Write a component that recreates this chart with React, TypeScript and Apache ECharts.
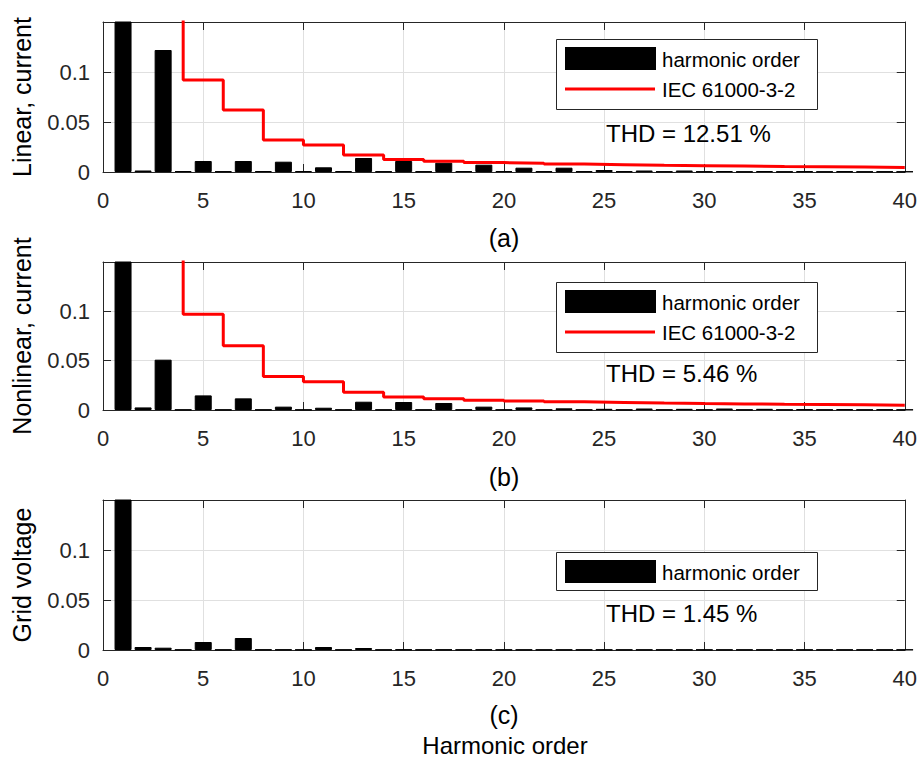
import React, { useEffect, useRef } from "react";
import * as echarts from "echarts";

// Harmonic orders 1..40
const harmonics = [
  1, 2, 3, 4, 5, 6, 7, 8, 9, 10, 11, 12, 13, 14, 15, 16, 17, 18, 19, 20,
  21, 22, 23, 24, 25, 26, 27, 28, 29, 30, 31, 32, 33, 34, 35, 36, 37, 38, 39, 40,
];

// (a) Linear current harmonic magnitudes (p.u. of fundamental)
const linearCurrent = [
  1, 0.0015, 0.122, 0.001, 0.011, 0.0007, 0.011, 0.001, 0.0103, 0.001,
  0.0047, 0.001, 0.014, 0.0007, 0.011, 0.0007, 0.0093, 0.001, 0.0073, 0.001,
  0.0043, 0.0008, 0.0043, 0.0008, 0.002, 0.0008, 0.0015, 0.0006, 0.0015, 0.0006,
  0.001, 0.0005, 0.001, 0.0005, 0.0008, 0.0005, 0.0008, 0.0005, 0.0006, 0.0005,
];

// (b) Nonlinear current harmonic magnitudes
const nonlinearCurrent = [
  1, 0.0026, 0.051, 0.0004, 0.0148, 0.0004, 0.0118, 0.0004, 0.0034, 0.0004,
  0.0023, 0.0004, 0.0084, 0.0004, 0.0081, 0.0004, 0.0071, 0.0004, 0.0034, 0.0004,
  0.0026, 0.0004, 0.0017, 0.0004, 0.0012, 0.0004, 0.0015, 0.0004, 0.0012, 0.0004,
  0.0015, 0.0004, 0.0012, 0.0004, 0.0008, 0.0004, 0.0008, 0.0004, 0.0006, 0.0004,
];

// (c) Grid voltage harmonic magnitudes
const gridVoltage = [
  1, 0.003, 0.0023, 0.0004, 0.008, 0.0004, 0.012, 0.0005, 0.0005, 0.0004,
  0.003, 0.0004, 0.002, 0.0004, 0.0006, 0.0004, 0.0005, 0.0004, 0.0005, 0.0004,
  0.0004, 0.0004, 0.0004, 0.0004, 0.0004, 0.0004, 0.0004, 0.0004, 0.0004, 0.0004,
  0.0004, 0.0004, 0.0004, 0.0004, 0.0004, 0.0004, 0.0004, 0.0004, 0.0004, 0.0004,
];

// IEC 61000-3-2 limit stairs (step starts)
const limitSteps = [2, 4, 6, 8, 10, 12, 14, 16, 18, 20, 22, 24, 26, 28, 30, 32, 34, 36, 38, 40];
const limitLinear = [
  0.186, 0.092, 0.062, 0.032, 0.027, 0.017, 0.0125, 0.0107, 0.0094, 0.0087,
  0.0079, 0.0073, 0.0067, 0.0063, 0.0059, 0.0055, 0.0052, 0.0049, 0.0046, 0.0046,
];
const limitNonlinear = [
  0.195, 0.097, 0.065, 0.034, 0.0287, 0.0179, 0.0132, 0.0115, 0.01, 0.0091,
  0.0083, 0.0077, 0.0071, 0.0066, 0.0062, 0.0058, 0.0055, 0.0052, 0.0049, 0.0049,
];

const xTicks = { min: 0, max: 40, interval: 5 };
const yTicks = { min: 0, max: 0.15, interval: 0.05 };

const yLabels = ["Linear, current", "Nonlinear, current", "Grid voltage"];
const panelTags = ["(a)", "(b)", "(c)"];
const thdTexts = ["THD = 12.51 %", "THD = 5.46 %", "THD = 1.45 %"];
const barName = "harmonic order";
const limitName = "IEC 61000-3-2";
const xLabel = "Harmonic order";

const FONT = "'Liberation Sans', Arial, Helvetica, sans-serif";
const AX = "#262626";
const GRIDC = "#e0e0e0";

const grids = [
  { left: 103, top: 22, width: 803, height: 150 },
  { left: 103, top: 262, width: 803, height: 148 },
  { left: 103, top: 500, width: 803, height: 150 },
];

function textEl(text: string, x: number, y: number, size: number, align = "left", rot = 0) {
  return {
    type: "text",
    x,
    y,
    rotation: rot,
    z: 100,
    style: {
      text,
      fontSize: size,
      fontFamily: FONT,
      fill: "#000",
      align,
      verticalAlign: "middle",
      textAlign: align,
      textVerticalAlign: "middle",
    },
  };
}

export default function App() {
  const ref = useRef<HTMLDivElement>(null);
  useEffect(() => {
    if (!ref.current) return;
    const chart = echarts.init(ref.current, undefined, { renderer: "svg" });

    const xAxis: any[] = [];
    const yAxis: any[] = [];
    const series: any[] = [];
    const panelData = [linearCurrent, nonlinearCurrent, gridVoltage];
    const limits = [limitLinear, limitNonlinear, null];

    grids.forEach((g, i) => {
      xAxis.push({
        gridIndex: i,
        type: "value",
        ...xTicks,
        position: "bottom",
        axisLine: { show: true, onZero: false, lineStyle: { color: AX, width: 1 } },
        axisTick: { show: true, inside: true, length: 8, lineStyle: { color: AX } },
        axisLabel: { fontSize: 22, color: AX, margin: 17, fontFamily: FONT },
        splitLine: { show: true, lineStyle: { color: GRIDC, width: 1 } },
      });
      xAxis.push({
        gridIndex: i,
        type: "value",
        ...xTicks,
        position: "top",
        axisLine: { show: true, onZero: false, lineStyle: { color: AX, width: 1 } },
        axisTick: { show: true, inside: true, length: 8, lineStyle: { color: AX } },
        axisLabel: { show: false },
        splitLine: { show: false },
      });
      yAxis.push({
        gridIndex: i,
        type: "value",
        ...yTicks,
        position: "left",
        axisLine: { show: true, onZero: false, lineStyle: { color: AX, width: 1 } },
        axisTick: { show: true, inside: true, length: 8, lineStyle: { color: AX } },
        axisLabel: {
          fontSize: 22,
          color: AX,
          margin: 13,
          fontFamily: FONT,
          showMaxLabel: false,
          formatter: (v: number) => String(Math.round(v * 100) / 100),
        },
        splitLine: { show: true, lineStyle: { color: GRIDC, width: 1 } },
      });
      yAxis.push({
        gridIndex: i,
        type: "value",
        ...yTicks,
        position: "right",
        axisLine: { show: true, onZero: false, lineStyle: { color: AX, width: 1 } },
        axisTick: { show: true, inside: true, length: 8, lineStyle: { color: AX } },
        axisLabel: { show: false },
        splitLine: { show: false },
      });

      series.push({
        name: barName,
        type: "bar",
        xAxisIndex: 2 * i,
        yAxisIndex: 2 * i,
        data: harmonics.map((h, k) => [h, panelData[i][k]]),
        barWidth: 17,
        clip: true,
        itemStyle: { color: "#000", borderColor: "#000", borderWidth: 1 },
        z: 2,
      });
      const lim = limits[i];
      if (lim) {
        series.push({
          name: limitName,
          type: "line",
          step: "end",
          xAxisIndex: 2 * i,
          yAxisIndex: 2 * i,
          data: limitSteps.map((x, k) => [x, lim[k]]),
          showSymbol: false,
          symbol: "none",
          clip: true,
          lineStyle: { color: "#ff0000", width: 3 },
          z: 3,
        });
      }
    });

    const graphic: any[] = [];
    // y labels
    const yLabelY = [97, 336, 575];
    yLabels.forEach((t, i) => graphic.push(textEl(t, 22, yLabelY[i], 25, "center", Math.PI / 2)));
    // panel tags
    const tagY = [238, 477, 715];
    panelTags.forEach((t, i) => graphic.push(textEl(t, 504, tagY[i], 25, "center")));
    graphic.push(textEl(xLabel, 505, 745, 24, "center"));

    // legends
    const legendBoxes = [
      { y: 39, h: 70, two: true },
      { y: 282, h: 70, two: true },
      { y: 552, h: 38, two: false },
    ];
    legendBoxes.forEach((b) => {
      graphic.push({
        type: "rect",
        z: 90,
        shape: { x: 556.5, y: b.y + 0.5, width: 261, height: b.h },
        style: { fill: "#fff", stroke: AX, lineWidth: 1 },
      });
      graphic.push({
        type: "rect",
        z: 95,
        shape: { x: 565, y: b.y + 8, width: 91, height: 23 },
        style: { fill: "#000" },
      });
      graphic.push(textEl(barName, 662, b.y + 20, 20.5, "left"));
      if (b.two) {
        graphic.push({
          type: "line",
          z: 95,
          shape: { x1: 565, y1: b.y + 50, x2: 655, y2: b.y + 50 },
          style: { stroke: "#ff0000", lineWidth: 3 },
        });
        graphic.push(textEl(limitName, 662, b.y + 50, 20.5, "left"));
      }
    });
    const thdY = [133, 373, 613];
    thdTexts.forEach((t, i) => graphic.push(textEl(t, 606, thdY[i], 24, "left")));

    chart.setOption({
      animation: false,
      backgroundColor: "#fff",
      grid: grids.map((g) => ({ ...g, containLabel: false })),
      xAxis,
      yAxis,
      series,
      graphic,
    });
    return () => chart.dispose();
  }, []);

  return (
    <div
      ref={ref}
      style={{ position: "fixed", left: 0, top: 0, width: 920, height: 760, background: "#fff" }}
    />
  );
}
